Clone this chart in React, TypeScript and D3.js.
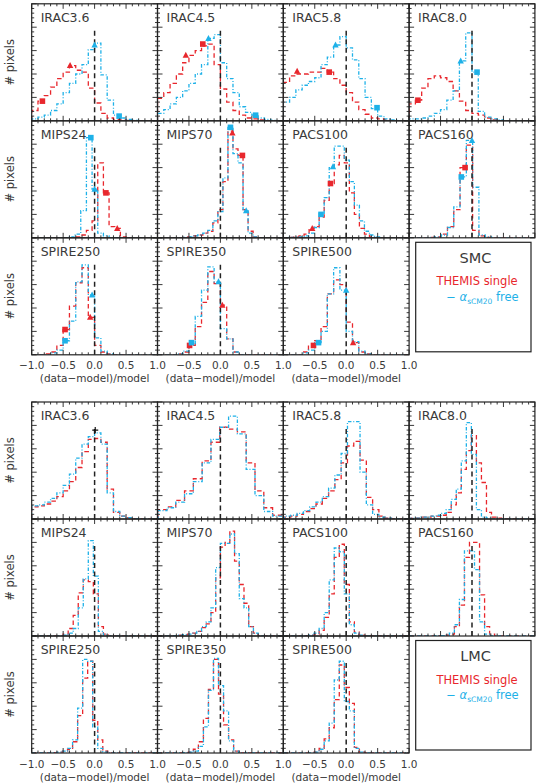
import React from 'react';
import * as d3 from 'd3';

// band names, one panel each (row by row, 4 per row)
const bands = ['IRAC3.6', 'IRAC4.5', 'IRAC5.8', 'IRAC8.0', 'MIPS24', 'MIPS70', 'PACS100', 'PACS160', 'SPIRE250', 'SPIRE350', 'SPIRE500'];

// histogram binning per panel: left edge of first bin and bin width, in (data-model)/model
const smcBinStart = [-1.0, -1.0, -1.0, -1.0, -0.4, -0.6, -0.99, -0.69, -1.0, -1.0, -1.0];
const smcBinWidth = [0.1, 0.1, 0.1, 0.1, 0.09, 0.08, 0.08, 0.1, 0.1, 0.1, 0.1];
const lmcBinStart = [-1.0, -0.99, -0.98, -0.97, -0.5, -0.75, -0.99, -1.0, -0.99, -0.99, -0.99];
const lmcBinWidth = [0.1, 0.14, 0.1, 0.08, 0.08, 0.075, 0.08, 0.08, 0.08, 0.08, 0.08];

// normalised pixel counts (1.0 = top of the dashed zero line)
const smcThemis = [
  [0.11, 0.21, 0.27, 0.36, 0.45, 0.52, 0.59, 0.54, 0.52, 0.35, 0.19, 0.08, 0.03, 0.015, 0.01, 0.005],
  [0.24, 0.3, 0.4, 0.5, 0.62, 0.7, 0.75, 0.8, 0.82, 0.6, 0.34, 0.2, 0.11, 0.06, 0.03, 0.02, 0.01],
  [0.41, 0.48, 0.5, 0.5, 0.52, 0.52, 0.56, 0.52, 0.45, 0.38, 0.3, 0.2, 0.12, 0.07, 0.03, 0.02, 0.01],
  [0.18, 0.22, 0.35, 0.45, 0.48, 0.46, 0.42, 0.32, 0.21, 0.11, 0.08, 0.06, 0.03, 0.01],
  [0, 0.01, 0.03, 0.08, 0.18, 0.8, 0.48, 0.12, 0.1, 0.01],
  [0.005, 0.01, 0.02, 0.03, 0.05, 0.07, 0.16, 0.3, 0.6, 1.14, 0.95, 0.88, 0.3, 0.07, 0.01],
  [0, 0.005, 0.01, 0.02, 0.04, 0.1, 0.12, 0.22, 0.4, 0.58, 0.78, 0.88, 0.8, 0.48, 0.25, 0.1, 0.04, 0.01],
  [0.005, 0.01, 0.04, 0.12, 0.3, 0.75, 0.99, 0.08, 0.02, 0.005],
  [0, 0, 0.01, 0.03, 0.1, 0.27, 0.52, 0.77, 0.93, 0.4, 0.1, 0.03, 0.01],
  [0, 0, 0, 0.01, 0.03, 0.1, 0.3, 0.56, 0.89, 0.76, 0.53, 0.17, 0.03],
  [0, 0, 0, 0.03, 0.1, 0.15, 0.3, 0.65, 0.8, 0.75, 0.35, 0.13, 0.03, 0.01],
];
const smcFree = [
  [0.02, 0.04, 0.06, 0.11, 0.18, 0.3, 0.4, 0.5, 0.6, 0.76, 0.83, 0.49, 0.22, 0.06, 0.03, 0.015, 0.005],
  [0.08, 0.12, 0.18, 0.25, 0.32, 0.4, 0.5, 0.6, 0.88, 0.92, 0.62, 0.45, 0.3, 0.15, 0.09, 0.06, 0.03, 0.015, 0.005],
  [0.2, 0.25, 0.33, 0.38, 0.42, 0.46, 0.6, 0.68, 0.81, 0.9, 0.78, 0.65, 0.45, 0.25, 0.13, 0.05, 0.02, 0.01],
  [0.02, 0.02, 0.03, 0.05, 0.08, 0.12, 0.22, 0.32, 0.64, 0.94, 0.52, 0.1, 0.04, 0.02, 0.01],
  [0.01, 0.04, 0.29, 1.07, 0.52, 0.05, 0.02],
  [0.005, 0.01, 0.02, 0.03, 0.05, 0.08, 0.18, 0.28, 0.64, 1.18, 0.9, 0.8, 0.29, 0.05, 0.01],
  [0, 0.005, 0.01, 0.01, 0.02, 0.05, 0.11, 0.26, 0.43, 0.75, 0.98, 0.98, 0.83, 0.6, 0.35, 0.18, 0.07, 0.03, 0.01],
  [0.005, 0.01, 0.03, 0.11, 0.33, 0.65, 1.04, 0.54, 0.03, 0.01],
  [0, 0, 0, 0.02, 0.05, 0.15, 0.36, 0.78, 0.96, 0.64, 0.18, 0.04, 0.01],
  [0, 0, 0, 0.01, 0.04, 0.12, 0.41, 0.69, 0.94, 0.78, 0.28, 0.17, 0.03],
  [0, 0, 0, 0.02, 0.05, 0.13, 0.25, 0.65, 0.93, 0.69, 0.25, 0.14, 0.04, 0.01],
];
const lmcThemis = [
  [0.13, 0.14, 0.16, 0.19, 0.24, 0.3, 0.4, 0.55, 0.72, 0.85, 0.86, 0.82, 0.32, 0.07, 0.03, 0.015, 0.005],
  [0.1, 0.13, 0.2, 0.3, 0.43, 0.62, 0.82, 0.98, 0.96, 0.93, 0.6, 0.3, 0.12, 0.04],
  [0.02, 0.03, 0.05, 0.08, 0.11, 0.16, 0.22, 0.3, 0.42, 0.6, 0.78, 0.83, 0.63, 0.23, 0.1, 0.03, 0.01],
  [0.01, 0.01, 0.02, 0.02, 0.03, 0.03, 0.04, 0.07, 0.15, 0.28, 0.53, 0.73, 0.89, 0.6, 0.39, 0.07, 0.02, 0.01],
  [0.02, 0.08, 0.22, 0.46, 0.6, 0.58, 0.45, 0.1, 0.02],
  [0.005, 0.01, 0.015, 0.02, 0.03, 0.05, 0.09, 0.13, 0.25, 0.62, 0.95, 1.0, 1.12, 0.8, 0.55, 0.35, 0.1, 0.03],
  [0, 0, 0, 0, 0.005, 0.01, 0.02, 0.06, 0.2, 0.45, 0.84, 0.98, 0.55, 0.15, 0.04, 0.01],
  [0, 0, 0, 0, 0, 0.005, 0.005, 0.01, 0.02, 0.1, 0.33, 0.84, 1.0, 1.0, 0.44, 0.1, 0.02],
  [0, 0, 0, 0, 0.005, 0.01, 0.02, 0.04, 0.12, 0.4, 0.8, 0.98, 0.35, 0.14, 0.02],
  [0, 0, 0, 0, 0, 0.005, 0.01, 0.04, 0.12, 0.37, 0.68, 1.0, 0.63, 0.3, 0.14, 0.02],
  [0, 0, 0, 0, 0, 0, 0.01, 0.05, 0.15, 0.27, 0.57, 0.94, 0.7, 0.53, 0.06, 0.01],
];
const lmcFree = [
  [0.14, 0.15, 0.18, 0.22, 0.28, 0.36, 0.48, 0.65, 0.8, 0.88, 0.92, 0.8, 0.28, 0.08, 0.03, 0.015, 0.005],
  [0.09, 0.12, 0.18, 0.27, 0.4, 0.6, 0.85, 0.98, 1.1, 0.91, 0.53, 0.25, 0.08, 0.03],
  [0.03, 0.04, 0.06, 0.09, 0.13, 0.18, 0.24, 0.33, 0.47, 0.7, 1.04, 1.04, 0.5, 0.15, 0.05, 0.02, 0.01],
  [0.01, 0.01, 0.02, 0.02, 0.03, 0.04, 0.06, 0.1, 0.21, 0.32, 0.62, 1.03, 0.69, 0.1, 0.02, 0.01],
  [0.01, 0.03, 0.08, 0.3, 0.61, 1.02, 0.64, 0.05, 0.01],
  [0.005, 0.01, 0.015, 0.02, 0.03, 0.05, 0.1, 0.15, 0.3, 0.73, 0.99, 0.99, 1.09, 0.88, 0.4, 0.3, 0.1, 0.03],
  [0, 0, 0, 0, 0.005, 0.01, 0.03, 0.08, 0.25, 0.6, 0.94, 0.9, 0.45, 0.12, 0.03, 0.01],
  [0, 0, 0, 0, 0, 0.005, 0.005, 0.01, 0.03, 0.12, 0.39, 0.91, 0.91, 0.71, 0.15, 0.02],
  [0, 0, 0, 0, 0.005, 0.01, 0.02, 0.05, 0.14, 0.48, 1.0, 0.98, 0.28, 0.05, 0.01],
  [0, 0, 0, 0, 0, 0.005, 0.01, 0.02, 0.07, 0.28, 0.67, 1.01, 0.72, 0.45, 0.13, 0.02],
  [0, 0, 0, 0, 0, 0, 0.01, 0.04, 0.13, 0.32, 0.78, 0.98, 0.55, 0.45, 0.05, 0.01],
];

// highlighted pixels: [panel, series, shape, x, y]
type Mark = [number, 'red' | 'cyan' | 'black', 'square' | 'triangle' | 'plus', number, number];
const smcMarks: Mark[] = [
  [0, 'red', 'square', -0.83, 0.21], [0, 'red', 'triangle', -0.39, 0.59], [0, 'cyan', 'triangle', 0.0, 0.81], [0, 'cyan', 'square', 0.39, 0.05],
  [1, 'red', 'triangle', -0.55, 0.7], [1, 'red', 'square', -0.28, 0.82], [1, 'cyan', 'triangle', -0.19, 0.88], [1, 'cyan', 'square', 0.56, 0.06],
  [2, 'red', 'triangle', -0.78, 0.53], [2, 'red', 'square', -0.27, 0.52], [2, 'cyan', 'triangle', -0.17, 0.81], [2, 'cyan', 'square', 0.49, 0.14],
  [3, 'red', 'square', -0.86, 0.22], [3, 'cyan', 'triangle', -0.18, 0.64], [3, 'cyan', 'square', 0.08, 0.52],
  [4, 'cyan', 'square', -0.06, 1.07], [4, 'cyan', 'triangle', 0.0, 0.52], [4, 'red', 'square', 0.18, 0.48], [4, 'red', 'triangle', 0.36, 0.1],
  [5, 'cyan', 'square', 0.16, 1.18], [5, 'red', 'triangle', 0.19, 1.12], [5, 'red', 'square', 0.35, 0.88], [5, 'cyan', 'triangle', 0.41, 0.29],
  [6, 'red', 'triangle', -0.54, 0.1], [6, 'cyan', 'square', -0.4, 0.25], [6, 'red', 'square', -0.25, 0.58], [6, 'cyan', 'triangle', -0.21, 0.76],
  [7, 'cyan', 'square', -0.17, 0.65], [7, 'red', 'square', -0.11, 0.75], [7, 'cyan', 'triangle', 0.0, 1.04],
  [8, 'red', 'square', -0.47, 0.27], [8, 'cyan', 'square', -0.47, 0.15], [8, 'red', 'triangle', -0.07, 0.4], [8, 'cyan', 'triangle', -0.04, 0.64],
  [9, 'red', 'square', -0.49, 0.1], [9, 'cyan', 'square', -0.46, 0.13], [9, 'cyan', 'triangle', -0.03, 0.78], [9, 'red', 'triangle', 0.03, 0.53],
  [10, 'red', 'square', -0.52, 0.1], [10, 'cyan', 'square', -0.44, 0.13], [10, 'cyan', 'triangle', 0.0, 0.69], [10, 'red', 'triangle', 0.11, 0.13],
];
const lmcMarks: Mark[] = [[0, 'black', 'plus', 0.01, 0.95]];

const xTickValues = [-1, -0.5, 0, 0.5, 1];
const xTickLabels = ['\u22121.0', '\u22120.5', '0.0', '0.5', '1.0'];
const yTop = 1.25;

const W = 539, H = 783;
const LEFT = 31.7, COLW = 125.8, ROWH = 117;
const RED = '#e8272d', CYAN = '#1eb1e8', INK = '#222', TXT = '#3a3a3a';
const FONT = 'DejaVu Sans, sans-serif';

function Block({ top, name, start, width, themis, free, marks }: any) {
  const panels = bands.map((band, i) => {
    const row = Math.floor(i / 4), col = i % 4;
    const px = LEFT + col * COLW, py = top + row * ROWH;
    const x = d3.scaleLinear().domain([-1, 1]).range([px, px + COLW]);
    const y = d3.scaleLinear().domain([0, yTop]).range([py + ROWH, py]);
    const line = d3.line<[number, number]>().x(d => x(d[0])).y(d => y(d[1])).curve(d3.curveStepAfter);
    const steps = (vals: number[]): [number, number][] => [
      [-1, 0],
      ...vals.map((v, k) => [start[i] + k * width[i], v] as [number, number]),
      [start[i] + vals.length * width[i], 0],
      [1, 0],
    ];
    const clipId = `clip-${name}-${i}`;
    const xMinor = d3.range(-10, 11).map(k => k / 10);
    const yMinor = d3.range(0, Math.round(yTop / 0.05) + 1).map(k => k * 0.05);
    return (
      <g key={band}>
        <clipPath id={clipId}><rect x={px} y={py} width={COLW} height={ROWH} /></clipPath>
        <g clipPath={`url(#${clipId})`}>
          <path d={line(steps(themis[i])) || ''} fill="none" stroke={RED} strokeWidth={1.3} strokeDasharray="4.5,3" />
          <path d={line(steps(free[i])) || ''} fill="none" stroke={CYAN} strokeWidth={1.3} strokeDasharray="3.5,1.8,1,1.8" />
          <line x1={x(0)} x2={x(0)} y1={y(0)} y2={y(1)} stroke={INK} strokeWidth={1.5} strokeDasharray="5,3.5" />
          {marks.filter((m: Mark) => m[0] === i).map((m: Mark, k: number) => {
            const cx = x(m[3]), cy = y(m[4]);
            const c = m[1] === 'red' ? RED : m[1] === 'cyan' ? CYAN : '#111';
            if (m[2] === 'square') return <rect key={k} x={cx - 2.8} y={cy - 2.8} width={5.6} height={5.6} fill={c} />;
            if (m[2] === 'triangle') return <path key={k} d={`M${cx},${cy - 3.5}L${cx + 3.2},${cy + 2.5}L${cx - 3.2},${cy + 2.5}Z`} fill={c} />;
            return <path key={k} d={`M${cx - 3},${cy}H${cx + 3}M${cx},${cy - 3}V${cy + 3}`} stroke={c} strokeWidth={1.2} />;
          })}
        </g>
        {xMinor.map(v => {
          const major = Math.abs(v * 2 - Math.round(v * 2)) < 1e-6;
          const len = major ? 5 : 2.5;
          return (
            <g key={`x${v}`}>
              <line x1={x(v)} x2={x(v)} y1={py + ROWH} y2={py + ROWH - len} stroke={INK} strokeWidth={0.9} />
              <line x1={x(v)} x2={x(v)} y1={py} y2={py + len} stroke={INK} strokeWidth={0.9} />
            </g>
          );
        })}
        {yMinor.map((v, k) => {
          const len = k % 5 === 0 ? 5 : 2.5;
          return (
            <g key={`y${k}`}>
              <line x1={px} x2={px + len} y1={y(v)} y2={y(v)} stroke={INK} strokeWidth={0.9} />
              <line x1={px + COLW} x2={px + COLW - len} y1={y(v)} y2={y(v)} stroke={INK} strokeWidth={0.9} />
            </g>
          );
        })}
        <rect x={px} y={py} width={COLW} height={ROWH} fill="none" stroke={INK} strokeWidth={1.2} />
        <text x={px + 9} y={py + 17.8} fontSize={12.5} fill={TXT}>{band}</text>
        {row === 2 && xTickValues.map((v, k) => (col > 0 && k === 0) ? null : (
          <text key={`l${k}`} x={x(v)} y={py + ROWH + 14.5} fontSize={10.5} fill={TXT} textAnchor="middle">{xTickLabels[k]}</text>
        ))}
        {row === 2 && (
          <text x={px + COLW / 2} y={py + ROWH + 27.5} fontSize={10.5} fill={TXT} textAnchor="middle">(data{'\u2212'}model)/model</text>
        )}
      </g>
    );
  });
  const lx = LEFT + 3 * COLW + 6.6, ly = top + 2 * ROWH + 4.5;
  return (
    <g>
      {panels}
      {[0, 1, 2].map(r => (
        <text key={r} transform={`translate(13.5,${top + r * ROWH + ROWH / 2}) rotate(-90)`} fontSize={11.5} fill={TXT} textAnchor="middle"># pixels</text>
      ))}
      <rect x={lx} y={ly} width={115.3} height={109.5} fill="none" stroke={INK} strokeWidth={1.2} />
      <text x={lx + 59.8} y={ly + 20.5} fontSize={14.5} fill={TXT} textAnchor="middle">{name}</text>
      <text x={lx + 102} y={ly + 43} fontSize={11.5} fill={RED} textAnchor="end">THEMIS single</text>
      <text x={lx + 103} y={ly + 58.5} fontSize={11.5} fill={CYAN} textAnchor="end">
        {'\u2212 '}<tspan fontStyle="italic">{'\u03b1'}</tspan><tspan fontSize={7.5} dy={3}>sCM20</tspan><tspan dy={-3}>{' free'}</tspan>
      </text>
    </g>
  );
}

export default function App() {
  return (
    <div style={{ position: 'absolute', left: 0, top: 0, background: '#fff' }}>
      <svg width={W} height={H} style={{ display: 'block', fontFamily: FONT }}>
        <rect width={W} height={H} fill="#fff" />
        <Block top={3.8} name="SMC" start={smcBinStart} width={smcBinWidth} themis={smcThemis} free={smcFree} marks={smcMarks} />
        <Block top={402} name="LMC" start={lmcBinStart} width={lmcBinWidth} themis={lmcThemis} free={lmcFree} marks={lmcMarks} />
      </svg>
    </div>
  );
}
